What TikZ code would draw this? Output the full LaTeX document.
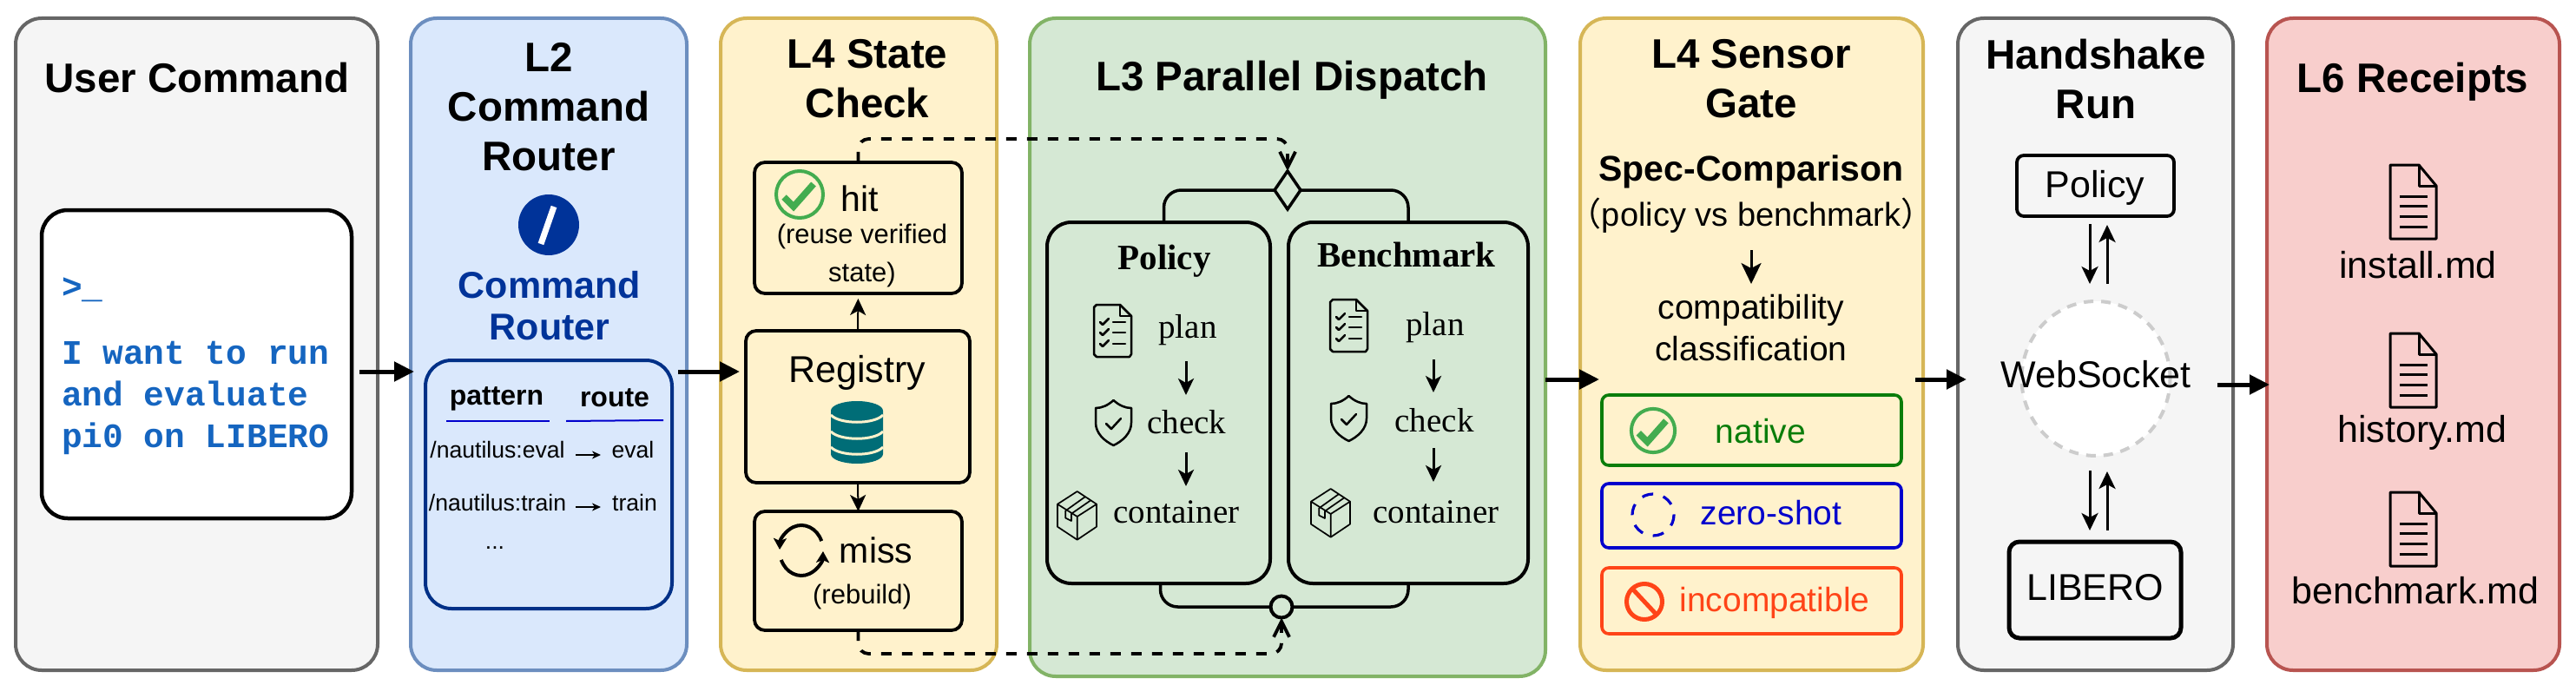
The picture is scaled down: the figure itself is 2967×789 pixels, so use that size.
\documentclass[tikz,border=0pt]{standalone}
\usepackage{fontspec}
\setmainfont{Liberation Sans}
\newfontfamily\serfam{Liberation Serif}
\newfontfamily\monfam{Liberation Mono}
\newfontfamily\cjkfam{Noto Sans CJK SC}
\usetikzlibrary{arrows.meta,shapes.geometric,calc}
\definecolor{gfill}{HTML}{F5F5F5}\definecolor{gline}{HTML}{666666}
\definecolor{bfill}{HTML}{DAE8FC}\definecolor{bline}{HTML}{6C8EBF}
\definecolor{yfill}{HTML}{FFF2CC}\definecolor{yline}{HTML}{D6B656}
\definecolor{lfill}{HTML}{D5E8D4}\definecolor{lline}{HTML}{82B366}
\definecolor{rfill}{HTML}{F8CECC}\definecolor{rline}{HTML}{B85450}
\definecolor{termblue}{HTML}{1565C0}\definecolor{navy}{HTML}{003399}
\definecolor{navyline}{HTML}{003087}\definecolor{pure}{HTML}{0000CC}
\definecolor{okgreen}{HTML}{43AC4F}\definecolor{natgreen}{HTML}{0A7D0A}
\definecolor{badred}{HTML}{FF4418}\definecolor{dbteal}{HTML}{006D77}
\newcommand{\fsz}[2]{\fontsize{#1}{#2}\selectfont}
\newcommand{\rnode}[6]{\node[#2,minimum width={#5-#3},minimum height={#6-#4}] (#1) at ({(#3+#5)/2},{(#4+#6)/2}) {};}
\tikzset{
  base/.style={inner sep=0pt,outer sep=0pt},
  panel/.style={base,draw,line width=4pt,rounded corners=30pt},
  pgray/.style={panel,draw=gline,fill=gfill},
  pblue/.style={panel,draw=bline,fill=bfill},
  pyell/.style={panel,draw=yline,fill=yfill},
  pgreen/.style={panel,draw=lline,fill=lfill},
  pred/.style={panel,draw=rline,fill=rfill},
  inbox/.style={base,draw=black,line width=3.8pt,rounded corners=12pt},
  bigbox/.style={base,draw=black,line width=4pt,rounded corners=28pt},
  tagbox/.style={base,line width=3.6pt,rounded corners=8pt},
  lab/.style={base,align=center,text=black},
  ptitle/.style={lab,font=\fsz{47.5}{57}\bfseries},
  flow/.style={line width=5pt,-{Triangle[length=23pt,width=22pt]}},
  midarrow/.style={line width=3pt,-{Stealth[length=19pt,width=18pt,inset=5pt]}},
  gatearrow/.style={line width=3pt,-{Stealth[length=24pt,width=23pt,inset=6pt]}},
  shakearrow/.style={line width=3pt,-{Stealth[length=20pt,width=19pt,inset=5pt]}},
  smallarrow/.style={line width=2pt,-{Stealth[length=10pt,width=9pt,inset=3pt]}},
  dashlink/.style={line width=3.8pt,dash pattern=on 12pt off 12pt,rounded corners=12pt,-{Straight Barb[length=18pt,width=18pt]}},
  bracket/.style={line width=3.5pt,rounded corners=20pt},
  sertitle/.style={lab,font=\fsz{41}{48}\serfam\bfseries},
  serlab/.style={lab,font=\fsz{39}{46}\serfam},
  kb/.style={lab,font=\fsz{39}{48}},
  router/.style={lab,font=\fsz{26.6}{32}},
  cyc/.style={line width=4pt,-{Stealth[length=13pt,width=15pt,inset=3pt]}},
}
\newcommand{\okicon}[3]{\begin{scope}[shift={(#1,#2)},scale=#3]
  \draw[okgreen,line width=4pt] (0,0) circle (27);
  \draw[okgreen,line width=7.5pt,line join=miter] (-18,3) -- (-7,14) -- (16,-12);
\end{scope}}
\newcommand{\planicon}[2]{\begin{scope}[shift={(#1,#2)},line width=2.5pt,line join=round,line cap=round]
  \draw (3,0) -- (30,0) -- (43,13) -- (43,57) -- (41,60) -- (3,60) -- (0,57) -- (0,3) -- cycle;
  \draw (30,0) -- (30,13) -- (43,13);
  \foreach \r in {20,32,45}{
    \draw (7,\r) -- (10,\r+3) -- (17,\r-4);
    \draw (22,\r) -- (36,\r);}
\end{scope}}
\newcommand{\shieldicon}[2]{\begin{scope}[shift={(#1,#2)},line width=2.5pt,line join=round,line cap=round]
  \draw (20.5,0) .. controls (27,6) and (34,9) .. (41,9) -- (41,26) .. controls (41,38) and (31,47) .. (20.5,52) .. controls (10,47) and (0,38) .. (0,26) -- (0,9) .. controls (7,9) and (14,6) .. (20.5,0) -- cycle;
  \draw (12,27) -- (18,33) -- (29,21);
\end{scope}}
\newcommand{\cubeicon}[2]{\begin{scope}[shift={(#1,#2)},line width=1.7pt,line join=round]
  \draw (22.7,0) -- (45,14.7) -- (45,40.7) -- (22.7,55.7) -- (0,40.7) -- (0,14.7) -- cycle;
  \draw (0,14.7) -- (22.7,29) -- (45,14.7) (22.7,29) -- (22.7,55.7);
  \draw (31.7,6.3) -- (9.3,22.3) -- (9.3,30.7) -- (16,34) -- (16,25.7) -- (37.7,10.7);
\end{scope}}
\newcommand{\fileicon}[2]{\begin{scope}[shift={(#1,#2)},line width=3pt,line join=round]
  \draw (1,0) -- (33,0) -- (53,24) -- (53,85) -- (0,85) -- (0,0) -- cycle;
  \draw (33,0) -- (33,24) -- (53,24);
  \foreach \r in {36,47,59,71}{\draw (11,\r) -- (43,\r);}
\end{scope}}
\begin{document}
\begin{tikzpicture}[x=1pt,y=-1pt]
\useasboundingbox (0,0) rectangle (2967,789);
\fill[white] (0,0) rectangle (2967,789);
% panels
\rnode{user}{pgray}{18}{21}{435}{772}
\rnode{ltwo}{pblue}{473}{21}{791}{772}
\rnode{state}{pyell}{830}{21}{1148}{772}
\rnode{lthree}{pgreen}{1186}{21}{1780}{779}
\rnode{sensor}{pyell}{1820}{21}{2215}{772}
\rnode{shake}{pgray}{2255}{21}{2572}{772}
\rnode{receipts}{pred}{2611}{21}{2948}{772}
% titles
\node[ptitle] (t1) at (227,90) {User Command};
\node[ptitle] (t2) at (632,123) {L2\\Command\\Router};
\node[ptitle] (t3) at (999,91) {L4 State\\Check};
\node[ptitle] (t4) at (1488,92) {L3 Parallel Dispatch};
\node[ptitle] (t5) at (2017,91) {L4 Sensor\\Gate};
\node[ptitle] (t6) at (2414,91) {Handshake\\Run};
\node[ptitle] (t7) at (2779,94) {L6 Receipts};
% terminal
\rnode{term}{base,draw=black,fill=white,line width=4.5pt,rounded corners=30pt}{48}{242}{405}{597}
\node[lab,anchor=west,text=termblue,font=\fsz{39.5}{48}\monfam\bfseries] (prompt) at (71,334) {>\_};
\node[lab,anchor=west,align=left,text=termblue,font=\fsz{39.5}{48}\monfam\bfseries] (cmd) at (71,458) {I want to run\\and evaluate\\pi0 on LIBERO};
% L2
\node[base,circle,fill=navy,minimum size=70pt] (slash) at (632,259) {};
\draw[white,line width=7pt] (638,238) -- (623,281);
\node[lab,text=navy,font=\fsz{43}{48}\bfseries] (crt) at (633,352) {Command\\Router};
\rnode{rtable}{base,draw=navyline,line width=4pt,rounded corners=30pt}{490}{415}{774}{701}
\node[lab,font=\fsz{32}{38}\bfseries] (hp) at (572,459) {pattern};
\node[lab,font=\fsz{32}{38}\bfseries] (hr) at (708,458) {route};
\coordinate (ul1) at (514,485); \coordinate (ul2) at (633,485);
\coordinate (ul3) at (652,485); \coordinate (ul4) at (764,484);
\draw[pure,line width=2pt] (ul1) -- (ul2);
\draw[pure,line width=2pt] (ul3) -- (ul4);
\node[router] (n1) at (573,518) {/nautilus:eval};
\node[router] (e1) at (729,518) {eval};
\node[router] (n2) at (573,579) {/nautilus:train};
\node[router] (e2) at (731,579) {train};
\node[router] (dots) at (570,631) {...};
\coordinate (ra1) at (663,524); \coordinate (ra2) at (692,524);
\coordinate (rb1) at (663,584); \coordinate (rb2) at (692,584);
\draw[smallarrow] (ra1) -- (ra2);
\draw[smallarrow] (rb1) -- (rb2);
% L4 state
\rnode{hit}{inbox}{869}{187}{1108}{338}
\rnode{reg}{inbox}{859}{381}{1117}{556}
\rnode{miss}{inbox}{869}{589}{1108}{726}
\okicon{921}{224}{1}
\node[lab,font=\fsz{41}{48}] (hitt) at (990,229) {hit};
\node[lab,font=\fsz{31}{44}] (hitd) at (993,294) {(reuse verified\\state)};
\node[lab,font=\fsz{43}{50}] (regt) at (987,429) {Registry};
\fill[dbteal] (957,473) arc (180:360:30 and 11) -- (1017,523) arc (0:180:30 and 11) -- cycle;
\draw[yfill,line width=3pt] (957,478) .. controls (967,489) and (1007,489) .. (1017,478);
\draw[yfill,line width=3pt] (957,497) .. controls (967,508) and (1007,508) .. (1017,497);
\draw[yfill,line width=3pt] (957,515) .. controls (967,526) and (1007,526) .. (1017,515);
\draw[cyc] (923,634) ++(-22:25 and 29) arc (-22:-178:25 and 29);
\draw[cyc] (923,634) ++(158:25 and 29) arc (158:2:25 and 29);
\node[lab,font=\fsz{41}{48}] (misst) at (1009,634) {miss};
\node[lab,font=\fsz{31}{38}] (missd) at (993,687) {(rebuild)};
\draw[midarrow,line width=2pt,shorten >=6pt] (reg.north) -- (hit.south);
\draw[midarrow,line width=2pt] (reg.south) -- (miss.north);
% L3
\rnode{pol}{bigbox}{1206}{256}{1463}{672}
\rnode{ben}{bigbox}{1484}{256}{1760}{672}
\node[base,diamond,draw=black,line width=3.5pt,minimum width=30pt,minimum height=44pt] (dia) at (1483,219) {};
\node[base,circle,draw=black,fill=lfill,line width=4pt,minimum size=25pt] (merge) at (1476,699) {};
\draw[bracket] (dia.west) -| ([xshift=6pt]pol.north);
\draw[bracket] (dia.east) -| (ben.north);
\draw[bracket] (merge.west) -| ([xshift=2pt]pol.south);
\draw[bracket] (merge.east) -| (ben.south);
\coordinate (dt) at (1483,160);
\coordinate (db) at (1476,753);
\draw[dashlink] (hit.north) |- (dt) -- (dia.north);
\draw[dashlink] (miss.south) |- (db) -- (merge.south);
\node[sertitle] (polt) at (1341,301) {Policy};
\node[serlab] (p1) at (1368,380) {plan};
\node[serlab] (p2) at (1367,486) {check};
\node[serlab] (p3) at (1355,590) {container};
\coordinate (pa1) at (1366,416); \coordinate (pa2) at (1366,455);
\coordinate (pa3) at (1366,521); \coordinate (pa4) at (1366,560);
\draw[midarrow] (pa1) -- (pa2);
\draw[midarrow] (pa3) -- (pa4);
\planicon{1260}{351}\shieldicon{1262}{461}\cubeicon{1218}{566}
\node[sertitle] (bent) at (1620,293) {Benchmark};
\node[serlab] (b1) at (1653,377) {plan};
\node[serlab] (b2) at (1652,484) {check};
\node[serlab] (b3) at (1654,590) {container};
\coordinate (ba1) at (1651,414); \coordinate (ba2) at (1651,452);
\coordinate (ba3) at (1651,516); \coordinate (ba4) at (1651,555);
\draw[midarrow] (ba1) -- (ba2);
\draw[midarrow] (ba3) -- (ba4);
\planicon{1532}{345}\shieldicon{1533}{456}\cubeicon{1510}{563}
% Sensor
\node[lab,font=\fsz{41}{48}\bfseries] (spec) at (2017,198) {Spec-Comparison};
\node[lab,font=\fsz{38}{46}] (specd) at (2017,248) {{\cjkfam （}policy vs benchmark{\cjkfam ）}};
\node[lab,font=\fsz{39}{48}] (compat) at (2017,378) {compatibility\\classification};
\coordinate (sa1) at (2017,288); \coordinate (sa2) at (2017,327);
\draw[gatearrow] (sa1) -- (sa2);
\rnode{native}{tagbox,draw=natgreen}{1845}{455}{2190}{536}
\rnode{zero}{tagbox,draw=pure}{1845}{557}{2190}{631}
\rnode{incompat}{tagbox,draw=badred}{1845}{654}{2190}{730}
\okicon{1904}{496}{0.93}
\draw[pure,line width=3.2pt,dash pattern=on 13pt off 12pt] (1904,593) circle (24);
\draw[badred,line width=5pt] (1894,693) circle (20.5);
\draw[badred,line width=5pt] (1880,678) -- (1908,708);
\node[kb,text=natgreen] (natt) at (2028,497) {native};
\node[kb,text=pure] (zerot) at (2040,591) {zero-shot};
\node[kb,text=badred] (inct) at (2044,694) {incompatible};
% Handshake
\rnode{hpol}{inbox,rounded corners=8pt}{2323}{179}{2504}{249}
\rnode{hlib}{inbox,line width=5pt}{2314}{624}{2512}{735}
\node[base,ellipse,draw=black!20,fill=white,line width=4pt,dash pattern=on 11pt off 9pt,minimum width=171pt,minimum height=178pt] (ws) at (2414,436) {};
\node[lab,font=\fsz{43}{50}] (hpolt) at (2413,216) {Policy};
\node[lab,font=\fsz{43}{50}] (wst) at (2414,431) {WebSocket};
\node[lab,font=\fsz{43}{50}] (hlibt) at (2413,677) {LIBERO};
\coordinate (u1) at (2407,258); \coordinate (u2) at (2407,327);
\coordinate (u3) at (2427,327); \coordinate (u4) at (2427,259);
\coordinate (l1) at (2407,542); \coordinate (l2) at (2407,611);
\coordinate (l3) at (2427,611); \coordinate (l4) at (2427,543);
\draw[shakearrow] (u1) -- (u2);
\draw[shakearrow] (u3) -- (u4);
\draw[shakearrow] (l1) -- (l2);
\draw[shakearrow] (l3) -- (l4);
% Receipts
\fileicon{2753}{190}\fileicon{2753}{384}\fileicon{2753}{567}
\node[lab,font=\fsz{43}{50}] (f1) at (2785,305) {install.md};
\node[lab,font=\fsz{43}{50}] (f2) at (2790,498) {history.md};
\node[lab,font=\fsz{43}{50}] (f3) at (2782,680) {benchmark.md};
% stage arrows
\coordinate (s1a) at (414,428); \coordinate (s1b) at (477,428);
\coordinate (s2a) at (781,428); \coordinate (s2b) at (852,428);
\coordinate (s3a) at (1780,437); \coordinate (s3b) at (1842,437);
\coordinate (s4a) at (2206,437); \coordinate (s4b) at (2265,437);
\coordinate (s5a) at (2554,443); \coordinate (s5b) at (2614,443);
\draw[flow] (s1a) -- (s1b);
\draw[flow] (s2a) -- (s2b);
\draw[flow] (s3a) -- (s3b);
\draw[flow] (s4a) -- (s4b);
\draw[flow] (s5a) -- (s5b);
\end{tikzpicture}
\end{document}
